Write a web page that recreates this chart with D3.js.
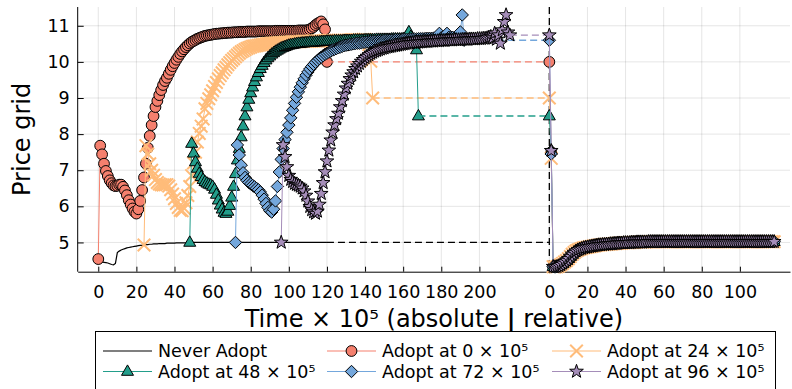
<!DOCTYPE html>
<html><head><meta charset="utf-8">
<script src="https://cdn.jsdelivr.net/npm/d3@7"></script>
<style>
body{margin:0;background:#fff}
svg{display:block}
text{font-family:"DejaVu Sans",sans-serif;fill:#000}
</style>
</head><body>
<svg id="chart" width="792" height="389"></svg>
<script>
// ---------- data ----------
const absTicks = [0,20,40,60,80,100,120,140,160,180,200];
const relTicks = [0,20,40,60,80,100];
const yTicks = [5,6,7,8,9,10,11];
const relOffset = 236.7;           // where "relative 0" sits on the shared time axis
const adoptTimes = [0,24,48,72,96];
const seriesLabels = ["Adopt at 0","Adopt at 24","Adopt at 48","Adopt at 72","Adopt at 96"];

// Never adopt, t = 0..120
const neverAdopt = [
4.52,4.48,4.46,4.45,4.44,4.43,4.41,4.39,4.38,4.42,
4.72,4.76,4.79,4.81,4.83,4.85,4.86,4.87,4.88,4.89,
4.90,4.91,4.92,4.92,4.93,4.94,4.94,4.95,4.95,4.96,
4.96,4.96,4.97,4.97,4.97,4.97,4.98,4.98,4.98,4.98,
4.98,4.99,4.99,4.99,4.99,4.99,4.99,4.99,4.99,4.99,
5.00,5.00,5.00,5.00,5.00,5.00,5.00,5.00,5.00,5.00,
5.00,5.00,5.00,5.00,5.00,5.00,5.00,5.00,5.00,5.00,
5.00,5.00,5.00,5.00,5.00,5.00,5.00,5.00,5.00,5.00,
5.00,5.00,5.00,5.00,5.00,5.00,5.00,5.00,5.00,5.00,
5.00,5.00,5.00,5.00,5.00,5.00,5.00,5.00,5.00,5.00,
5.00,5.00,5.00,5.00,5.00,5.00,5.00,5.00,5.00,5.00,
5.00,5.00,5.00,5.00,5.00,5.00,5.00,5.00,5.00,5.00,
5.00];

// Adopt at 0, t = 0..120
const adopt0 = [
4.54,7.68,7.44,7.18,6.98,6.84,6.72,6.64,6.58,6.56,
6.57,6.60,6.60,6.54,6.44,6.31,6.17,6.05,5.94,5.85,
5.80,5.92,6.15,6.45,6.80,7.18,7.62,7.95,8.25,8.50,
8.75,8.92,9.08,9.22,9.36,9.47,9.56,9.67,9.78,9.88,
9.97,10.06,10.14,10.22,10.29,10.35,10.41,10.46,10.51,10.55,
10.58,10.61,10.64,10.66,10.68,10.70,10.72,10.73,10.74,10.75,
10.76,10.77,10.78,10.78,10.79,10.79,10.80,10.80,10.81,10.81,
10.81,10.82,10.82,10.82,10.83,10.83,10.83,10.83,10.84,10.84,
10.84,10.84,10.84,10.84,10.85,10.85,10.85,10.85,10.85,10.85,
10.85,10.85,10.85,10.86,10.86,10.86,10.86,10.86,10.86,10.86,
10.86,10.86,10.86,10.86,10.86,10.87,10.87,10.87,10.87,10.87,
10.88,10.90,10.93,10.97,11.02,11.06,11.09,11.12,11.04,10.90,
10.00];

// Adopt at 24, t = 24..144
const adopt24 = [
4.93,7.68,7.45,7.18,7.00,6.86,6.74,6.66,6.62,6.60,
6.59,6.60,6.60,6.56,6.46,6.34,6.21,6.08,5.97,5.89,
5.88,5.95,6.10,6.30,6.55,6.85,7.20,7.50,7.78,8.02,
8.22,8.42,8.70,8.85,8.98,9.09,9.20,9.32,9.43,9.53,
9.62,9.70,9.78,9.85,9.92,9.98,10.04,10.09,10.14,10.19,
10.24,10.28,10.31,10.34,10.37,10.39,10.41,10.43,10.44,10.45,
10.46,10.47,10.48,10.49,10.50,10.51,10.51,10.52,10.52,10.53,
10.53,10.54,10.54,10.54,10.55,10.55,10.55,10.55,10.56,10.56,
10.56,10.56,10.56,10.57,10.57,10.57,10.57,10.57,10.58,10.58,
10.58,10.58,10.58,10.58,10.58,10.59,10.59,10.59,10.59,10.59,
10.59,10.59,10.60,10.60,10.60,10.60,10.60,10.60,10.60,10.61,
10.61,10.61,10.61,10.61,10.61,10.62,10.62,10.58,10.48,10.02,
9.00];

// Adopt at 48, t = 48..168
const adopt48 = [
5.00,7.74,7.47,7.23,7.05,6.91,6.82,6.74,6.68,6.64,
6.61,6.59,6.55,6.47,6.33,6.17,6.03,5.92,5.83,5.80,
5.86,6.02,6.25,6.55,6.90,7.28,7.60,7.92,8.22,8.50,
8.75,8.96,9.14,9.30,9.45,9.58,9.70,9.81,9.90,9.98,
10.05,10.11,10.16,10.21,10.25,10.29,10.32,10.35,10.38,10.40,
10.42,10.44,10.46,10.47,10.48,10.49,10.50,10.51,10.51,10.52,
10.52,10.53,10.53,10.54,10.54,10.54,10.55,10.55,10.55,10.56,
10.56,10.56,10.57,10.57,10.57,10.57,10.58,10.58,10.58,10.58,
10.58,10.59,10.59,10.59,10.59,10.59,10.60,10.60,10.60,10.60,
10.60,10.60,10.61,10.61,10.61,10.61,10.61,10.61,10.62,10.62,
10.62,10.62,10.62,10.62,10.62,10.62,10.63,10.63,10.63,10.63,
10.63,10.63,10.64,10.65,10.72,10.83,10.70,10.62,10.55,10.33,
8.50];

// Adopt at 72, t = 72..192
const adopt72 = [
5.00,7.70,7.42,7.14,6.93,6.80,6.72,6.66,6.62,6.58,
6.54,6.50,6.46,6.40,6.31,6.20,6.08,5.97,5.88,5.84,
5.92,6.15,6.55,6.95,7.30,7.60,7.85,8.05,8.25,8.45,
8.66,8.85,9.02,9.17,9.30,9.42,9.53,9.63,9.72,9.80,
9.87,9.93,9.99,10.04,10.09,10.13,10.17,10.21,10.24,10.27,
10.30,10.33,10.35,10.37,10.39,10.41,10.43,10.45,10.46,10.47,
10.48,10.49,10.50,10.51,10.52,10.52,10.53,10.54,10.54,10.55,
10.55,10.56,10.56,10.57,10.57,10.58,10.58,10.58,10.59,10.59,
10.59,10.60,10.60,10.60,10.61,10.61,10.61,10.61,10.62,10.62,
10.62,10.62,10.63,10.63,10.63,10.63,10.64,10.64,10.64,10.64,
10.65,10.65,10.65,10.65,10.66,10.66,10.68,10.79,10.67,10.66,
10.67,10.79,10.68,10.67,10.68,10.67,10.68,10.70,10.83,11.30,
10.60];

// Adopt at 96, t = 96..216
const adopt96 = [
5.00,7.70,7.37,7.09,6.85,6.74,6.68,6.63,6.60,6.58,
6.55,6.50,6.42,6.30,6.14,5.99,5.90,5.84,5.80,5.86,
6.05,6.35,6.65,6.95,7.25,7.55,7.83,8.05,8.25,8.42,
8.57,8.75,8.92,9.10,9.27,9.40,9.53,9.63,9.72,9.81,
9.88,9.95,10.01,10.06,10.11,10.15,10.19,10.23,10.26,10.29,
10.31,10.33,10.35,10.37,10.38,10.40,10.41,10.42,10.43,10.44,
10.45,10.46,10.47,10.48,10.49,10.50,10.51,10.52,10.52,10.53,
10.53,10.54,10.54,10.55,10.55,10.56,10.56,10.56,10.57,10.57,
10.57,10.58,10.58,10.58,10.59,10.59,10.59,10.60,10.60,10.60,
10.60,10.61,10.61,10.61,10.61,10.62,10.62,10.62,10.62,10.63,
10.63,10.63,10.63,10.64,10.64,10.64,10.65,10.65,10.66,10.68,
10.70,10.66,10.79,10.62,10.74,10.51,10.88,11.11,11.30,10.82,
10.74];

// relative time 1 (first step after the switch), per adopt series
const relStep1 = [7.50,7.33,7.55,7.45,7.54];
// relative time 2..118 (all adopt series overlap here)
const relShared = [
4.33,4.32,4.33,4.35,4.38,4.42,4.46,4.50,4.55,4.61,
4.67,4.72,4.76,4.79,4.81,4.83,4.85,4.86,4.87,4.88,
4.89,4.90,4.91,4.92,4.93,4.93,4.94,4.94,4.95,4.95,
4.96,4.96,4.97,4.97,4.98,4.98,4.98,4.99,4.99,4.99,
4.99,5.00,5.00,5.00,5.01,5.01,5.01,5.01,5.01,5.01,
5.02,5.02,5.02,5.02,5.02,5.02,5.02,5.02,5.02,5.02,
5.02,5.02,5.02,5.02,5.02,5.02,5.02,5.02,5.02,5.02,
5.02,5.02,5.02,5.02,5.02,5.02,5.02,5.02,5.02,5.02,
5.02,5.02,5.02,5.02,5.02,5.02,5.02,5.02,5.02,5.02,
5.02,5.02,5.02,5.02,5.02,5.02,5.02,5.02,5.02,5.02,
5.02,5.02,5.02,5.02,5.02,5.02,5.02,5.02,5.02,5.02,
5.02,5.02,5.02,5.02,5.02,5.02,5.02];

// ---------- styles ----------
const colors = ["#F5806E","#FFBC7A","#239E8B","#74A7DC","#A58DB9"];
const markerTypes = ["circle","x","triangle","diamond","star"];

// ---------- drawing ----------
const svg = d3.select("#chart");
const x = d3.scaleLinear().domain([-10.8, 363]).range([77.7, 790]);
const y = d3.scaleLinear().domain([4.19, 11.52]).range([271.7, 7]);
const plotTop = 7, plotBottom = 271.7;

const xTickPos = absTicks.concat(relTicks.map(v => v + relOffset));
const xTickLabel = new Map();
absTicks.forEach(v => xTickLabel.set(v, String(v)));
relTicks.forEach(v => xTickLabel.set(v + relOffset, String(v)));

// grid
const grid = svg.append("g");
grid.selectAll("line.gx").data(xTickPos).join("line")
  .attr("x1", d => x(d)).attr("x2", d => x(d)).attr("y1", plotTop).attr("y2", plotBottom)
  .attr("stroke", "#000").attr("stroke-opacity", 0.1).attr("stroke-width", 1);
grid.selectAll("line.gy").data(yTicks).join("line")
  .attr("x1", x.range()[0]).attr("x2", x.range()[1]).attr("y1", d => y(d)).attr("y2", d => y(d))
  .attr("stroke", "#000").attr("stroke-opacity", 0.1).attr("stroke-width", 1);

// axes
const xAxis = d3.axisBottom(x).tickValues(xTickPos).tickFormat(d => xTickLabel.get(d))
  .tickSizeInner(-5).tickSizeOuter(0).tickPadding(14);
const gx = svg.append("g").attr("transform", `translate(0,${plotBottom})`).call(xAxis);
const yAxis = d3.axisLeft(y).tickValues(yTicks).tickFormat(d3.format("d"))
  .tickSizeInner(-6).tickSizeOuter(0).tickPadding(8);
const gy = svg.append("g").attr("transform", `translate(${x.range()[0]},0)`).call(yAxis);
gy.select(".domain").attr("d", `M0,${plotTop}V${plotBottom}`);
[gx, gy].forEach(g => {
  g.selectAll("text").attr("font-family", "DejaVu Sans").attr("font-size", 17.5).attr("fill", "#000");
  g.selectAll("line, path").attr("stroke", "#000").attr("stroke-width", 1);
  g.attr("font-family", null).attr("font-size", null);
});

// vertical separator
svg.append("line").attr("x1", x(relOffset)).attr("x2", x(relOffset))
  .attr("y1", plotTop).attr("y2", plotBottom)
  .attr("stroke", "#000").attr("stroke-width", 1.3).attr("stroke-dasharray", "7,4");

// marker shapes
function starPath(R, r) {
  const pts = [];
  for (let k = 0; k < 10; k++) {
    const a = -Math.PI / 2 + k * Math.PI / 5;
    const rr = k % 2 === 0 ? R : r;
    pts.push([rr * Math.cos(a), rr * Math.sin(a)]);
  }
  return "M" + pts.map(p => p[0].toFixed(2) + "," + p[1].toFixed(2)).join("L") + "Z";
}
const markerPath = {
  circle: d3.symbol(d3.symbolCircle, Math.PI * 5.4 * 5.4)(),
  triangle: "M0,-6.6L6,3.8L-6,3.8Z",
  diamond: "M0,-6.2L6.2,0L0,6.2L-6.2,0Z",
  star: starPath(7.2, 2.9),
  x: "M-6.3,-6.3L6.3,6.3M-6.3,6.3L6.3,-6.3"
};
function drawMarkers(g, pts, i) {
  const type = markerTypes[i];
  const sel = g.selectAll(null).data(pts).join("path")
    .attr("d", markerPath[type])
    .attr("transform", d => `translate(${x(d.x)},${y(d.y)})`);
  if (type === "x") sel.attr("fill", "none").attr("stroke", colors[i]).attr("stroke-width", 2);
  else sel.attr("fill", colors[i]).attr("stroke", "#000").attr("stroke-width", 1);
}
const line = d3.line().x(d => x(d.x)).y(d => y(d.y));

// never adopt
const naPts = neverAdopt.map((v, k) => ({x: k, y: v}));
svg.append("path").attr("d", line(naPts)).attr("fill", "none").attr("stroke", "#000").attr("stroke-width", 1.2);
const naLast = naPts[naPts.length - 1];
svg.append("path").attr("d", line([naLast, {x: relOffset, y: naLast.y}]))
  .attr("fill", "none").attr("stroke", "#000").attr("stroke-width", 1.3).attr("stroke-dasharray", "7,4");

// adopt series
const absValues = [adopt0, adopt24, adopt48, adopt72, adopt96];
absValues.forEach((vals, i) => {
  const g = svg.append("g");
  const t0 = adoptTimes[i];
  const abs = vals.map((v, k) => ({x: t0 + k, y: v}));
  const last = abs[abs.length - 1];
  const rel = [{x: relOffset, y: last.y}, {x: relOffset + 1, y: relStep1[i]}]
    .concat(relShared.map((v, k) => ({x: relOffset + 2 + k, y: v})));
  g.append("path").attr("d", line(abs)).attr("fill", "none").attr("stroke", colors[i]).attr("stroke-width", 1);
  drawMarkers(g.append("g"), abs, i);
  g.append("path").attr("d", line([last, rel[0]])).attr("fill", "none")
    .attr("stroke", colors[i]).attr("stroke-width", 1.4).attr("stroke-dasharray", "7,4");
  g.append("path").attr("d", line(rel)).attr("fill", "none").attr("stroke", colors[i]).attr("stroke-width", 1);
  drawMarkers(g.append("g"), rel, i);
});

// axis titles
const xt = svg.append("text").attr("x", (x.range()[0] + x.range()[1]) / 2).attr("y", 327)
  .attr("text-anchor", "middle").attr("font-size", 24);
xt.append("tspan").text("Time × 10⁵ (absolute ");
xt.append("tspan").attr("font-weight", "bold").text("|");
xt.append("tspan").text(" relative)");
svg.append("text").attr("transform", `translate(30,${(plotTop + plotBottom) / 2}) rotate(-90)`)
  .attr("text-anchor", "middle").attr("font-size", 24).text("Price grid");

// legend
const lg = svg.append("g");
lg.append("rect").attr("x", 95.5).attr("y", 331.5).attr("width", 680).attr("height", 80)
  .attr("fill", "#fff").attr("stroke", "#000").attr("stroke-width", 1);
const legendItems = [{label: "Never Adopt", idx: -1}].concat(seriesLabels.map((s, i) => ({label: s + " × 10⁵", idx: i})));
const colX = [103, 327, 552];
const rowY = [351, 371.5];
legendItems.forEach((it, j) => {
  const cx = colX[j % 3], cy = rowY[Math.floor(j / 3)];
  const col = it.idx < 0 ? "#000" : colors[it.idx];
  lg.append("line").attr("x1", cx).attr("x2", cx + 49).attr("y1", cy).attr("y2", cy)
    .attr("stroke", col).attr("stroke-width", 1.2);
  if (it.idx >= 0) drawMarkers(lg.append("g"), [{x: x.invert(cx + 24.5), y: y.invert(cy)}], it.idx);
  lg.append("text").attr("x", cx + 55).attr("y", cy + 6.3).attr("font-size", 17.5).text(it.label);
});
</script>
</body></html>
